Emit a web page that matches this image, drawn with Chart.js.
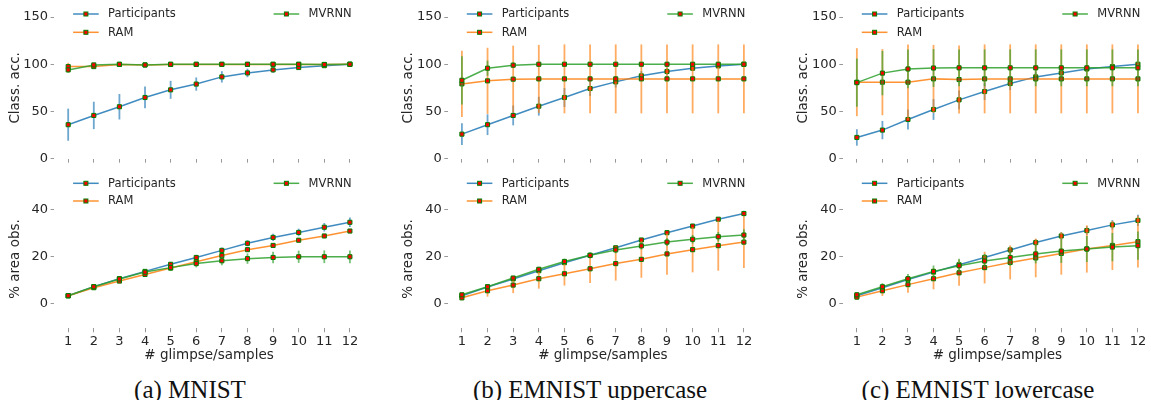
<!DOCTYPE html>
<html>
<head>
<meta charset="utf-8">
<script src="https://cdn.jsdelivr.net/npm/chart.js@4.4.0/dist/chart.umd.min.js"></script>
<style>
  html, body { margin: 0; padding: 0; background: #fff; }
  body { width: 1151px; height: 400px; position: relative; overflow: hidden; }
  canvas { position: absolute; }
  .cap { position: absolute; top: 377px; line-height: 25px; font-family: "Liberation Serif", serif; font-size: 25px; color: #111; white-space: nowrap; transform: translateX(-50%); }
</style>
</head>
<body>
<canvas id="accA"></canvas>
<canvas id="accB"></canvas>
<canvas id="accC"></canvas>
<canvas id="areaA"></canvas>
<canvas id="areaB"></canvas>
<canvas id="areaC"></canvas>
<div class="cap" style="left:190px">(a) MNIST</div>
<div class="cap" style="left:590px">(b) EMNIST uppercase</div>
<div class="cap" style="left:978px">(c) EMNIST lowercase</div>
<script>
// ---------- data ----------
const glimpses = [1, 2, 3, 4, 5, 6, 7, 8, 9, 10, 11, 12];
const seriesNames = ["Participants", "RAM", "MVRNN"];
const accTicks = [0, 50, 100, 150];
const areaTicks = [0, 20, 40];

// (a) MNIST - classification accuracy
const mnistAccPart = [36, 45.8, 55, 64.8, 72.9, 79, 86.6, 90.8, 94, 96.5, 98.5, 100];
const mnistAccPartErr = [17, 14.5, 13.5, 11.5, 9.5, 7, 6, 4.5, 3, 2, 1.5, 0.5];
const mnistAccRam = [97.5, 97.5, 99.8, 99.3, 99.8, 99.8, 99.8, 99.8, 99.8, 99.8, 99.8, 99.9];
const mnistAccRamErr = [4, 2, 0.5, 0.5, 0.4, 0.3, 0.3, 0.3, 0.3, 0.3, 0.3, 0.3];
const mnistAccMv = [94, 99.3, 100, 99.2, 100, 100, 100, 100, 100, 100, 99.6, 100];
const mnistAccMvErr = [3, 1, 0.5, 0.5, 0.4, 0.3, 0.3, 0.3, 0.3, 0.3, 0.3, 0.3];
// (a) MNIST - % area observed
const mnistAreaPart = [3.4, 7.2, 10.6, 13.7, 16.7, 19.6, 22.6, 25.6, 28.1, 30.2, 32.4, 34.5];
const mnistAreaPartErr = [0.5, 0.7, 0.8, 0.9, 1, 1.1, 1.2, 1.3, 1.5, 1.6, 1.8, 2];
const mnistAreaRam = [3.4, 6.8, 9.6, 12.4, 15.1, 17.8, 20.4, 22.9, 24.7, 26.9, 28.7, 30.8];
const mnistAreaRamErr = [0.3, 0.4, 0.5, 0.5, 0.6, 0.6, 0.7, 0.7, 0.8, 0.8, 0.9, 0.9];
const mnistAreaMv = [3.4, 7.2, 10.5, 13.4, 15.3, 17.0, 18.2, 19.1, 19.6, 19.9, 19.9, 19.9];
const mnistAreaMvErr = [0.5, 0.8, 1, 1.2, 1.4, 1.6, 1.9, 2.2, 2.4, 2.6, 2.7, 2.7];

// (b) EMNIST uppercase
const upperAccPart = [26, 36, 45.8, 55.6, 64.8, 74.3, 81.3, 87.7, 92.3, 95.8, 98.2, 100];
const upperAccPartErr = [11.5, 11, 10.5, 10, 10, 8, 6, 5, 4, 3, 2, 1];
const upperAccRam = [79.2, 82.4, 84.2, 84.5, 84.5, 84.5, 84.5, 84.5, 84.5, 84.5, 84.5, 84.5];
const upperAccRamErr = [35, 35, 35.5, 36, 36.5, 36.5, 36.5, 36.5, 36.5, 36.5, 36.5, 36.5];
const upperAccMv = [83, 95.8, 99, 100, 100, 100, 100, 100, 100, 100, 100, 100];
const upperAccMvErr = [25.5, 8, 3, 1.5, 1, 1, 0.8, 0.8, 0.8, 0.8, 0.8, 0.8];
const upperAreaPart = [3.4, 7.1, 10.5, 14.0, 17.4, 20.5, 23.7, 27.0, 30.1, 32.9, 35.8, 38.2];
const upperAreaPartErr = [0.3, 0.4, 0.5, 0.6, 0.6, 0.7, 0.7, 0.8, 0.8, 0.9, 0.9, 1.2];
const upperAreaRam = [2.5, 5.5, 7.9, 10.6, 12.7, 14.8, 17.0, 18.8, 21.1, 22.9, 24.6, 26.1];
const upperAreaRamErr = [1, 2.5, 3.4, 4.2, 5, 6, 7.2, 7.8, 8.8, 9.6, 10.6, 11];
const upperAreaMv = [3.8, 7.2, 10.9, 14.6, 17.9, 20.5, 22.8, 24.5, 26.1, 27.3, 28.4, 29.1];
const upperAreaMvErr = [0.4, 0.6, 0.8, 1, 1.2, 1.3, 1.4, 1.5, 1.6, 1.8, 2, 2.5];

// (c) EMNIST lowercase
const lowerAccPart = [22.5, 30.3, 41.5, 52.1, 62.3, 71.1, 79.6, 86.6, 90.8, 95, 97.5, 100];
const lowerAccPartErr = [8.7, 9.7, 10.5, 11, 10, 9, 7, 5, 4, 3, 2, 1.5];
const lowerAccRam = [81, 81, 81, 84.5, 83.8, 84.5, 84.5, 84.5, 84.5, 84.5, 84.5, 84.5];
const lowerAccRamErr = [36, 35, 40, 36, 36, 36.5, 36.5, 36.5, 36.5, 36.5, 36.5, 36.5];
const lowerAccMv = [80.5, 90.6, 95, 96, 96.2, 96.2, 96.2, 96.2, 96.2, 96.2, 96.2, 96.2];
const lowerAccMvErr = [25.5, 23.5, 20.5, 20, 19.5, 19.5, 19.5, 19.5, 19.5, 19.5, 19.5, 19.5];
const lowerAreaPart = [3.4, 6.8, 10.3, 13.4, 16.5, 19.6, 22.8, 25.9, 28.7, 31.0, 33.4, 35.3];
const lowerAreaPartErr = [0.4, 0.6, 0.7, 0.8, 1, 1.2, 1.4, 1.5, 1.6, 1.8, 2, 2.4];
const lowerAreaRam = [2.8, 5.5, 8.1, 10.6, 13.1, 15.3, 17.5, 19.4, 21.3, 23.2, 24.7, 26.3];
const lowerAreaRamErr = [1, 2.2, 3.4, 4.5, 5.5, 6.7, 7.2, 8.2, 9, 10, 10.4, 11];
const lowerAreaMv = [3.8, 7.2, 10.6, 13.7, 16.1, 18.1, 19.6, 21.1, 22.3, 23.2, 24.0, 24.6];
const lowerAreaMvErr = [1, 1.5, 2, 2.5, 3, 3, 3.5, 4, 5, 5.5, 6, 6];

// ---------- look ----------
const lineRgb = ["31,119,180", "255,127,14", "44,160,44"];
const markerFill = "#ff0000";
const markerEdge = "#008000";
const textColor = "#262626";

Chart.defaults.font.family = "'DejaVu Sans', sans-serif";
Chart.defaults.color = textColor;

// column = x placement, row = y placement (pixels on the page)
const columns = [
  { plotLeft: 54.1, plotRight: 366.9 },
  { plotLeft: 447.8, plotRight: 760.9 },
  { plotLeft: 842.8, plotRight: 1154.9 }
];
const rows = {
  acc: { top: 0, height: 170, areaTop: 17, areaBottom: 158.7, min: 0, max: 150, ticks: accTicks,
         title: "Class. acc.", showX: false, legendY: [14, 32.3] },
  area: { top: 172, height: 193, areaTop: 189.7, areaBottom: 328.3, min: -10.4, max: 48.3, ticks: areaTicks,
          title: "% area obs.", showX: true, legendY: [183.3, 201] }
};

// error bars, drawn just before each dataset so the line and markers sit on top
const errorBars = {
  id: "errorBars",
  beforeDatasetDraw(chart, args) {
    const ds = chart.data.datasets[args.index];
    if (!ds.errors) return;
    const ctx = chart.ctx;
    const xs = chart.scales.x, ys = chart.scales.y;
    ctx.save();
    ctx.strokeStyle = ds.errorColor;
    ctx.lineWidth = 1.8;
    ds.data.forEach((p, i) => {
      const px = xs.getPixelForValue(p.x);
      ctx.beginPath();
      ctx.moveTo(px, ys.getPixelForValue(p.y - ds.errors[i]));
      ctx.lineTo(px, ys.getPixelForValue(p.y + ds.errors[i]));
      ctx.stroke();
    });
    ctx.restore();
  }
};

// two-column legend like matplotlib (ncol=2)
const cornerLegend = {
  id: "cornerLegend",
  afterDraw(chart, args, opts) {
    const ctx = chart.ctx;
    const left = chart.chartArea.left;
    const slots = [[19, opts.rowsY[0]], [19, opts.rowsY[1]], [219.5, opts.rowsY[0]]];
    chart.data.datasets.forEach((ds, k) => {
      const x0 = left + slots[k][0];
      const y = slots[k][1];
      ctx.save();
      ctx.strokeStyle = ds.borderColor;
      ctx.lineWidth = 1.5;
      ctx.beginPath();
      ctx.moveTo(x0, y);
      ctx.lineTo(x0 + 25.6, y);
      ctx.stroke();
      ctx.fillStyle = markerFill;
      ctx.strokeStyle = markerEdge;
      ctx.lineWidth = 1;
      ctx.fillRect(x0 + 12.8 - 2, y - 2, 4, 4);
      ctx.strokeRect(x0 + 12.8 - 2, y - 2, 4, 4);
      ctx.fillStyle = textColor;
      ctx.font = "11.5px 'DejaVu Sans'";
      ctx.textBaseline = "middle";
      ctx.fillText(ds.label, x0 + 35, y + 0.5);
      ctx.restore();
    });
  }
};

function buildChart(id, col, row, series) {
  const canvas = document.getElementById(id);
  const left = Math.floor(col.plotLeft - 58);
  const width = Math.ceil(col.plotRight - left) + 2;
  canvas.width = width;
  canvas.height = row.height;
  canvas.style.left = left + "px";
  canvas.style.top = row.top + "px";
  const yWidth = col.plotLeft - left;
  const padRight = width - (col.plotRight - left);
  const xHeight = row.top + row.height - row.areaBottom;
  const titleCenter = yWidth - 39;

  return new Chart(canvas, {
    type: "line",
    data: {
      datasets: series.map((s, k) => ({
        label: seriesNames[k],
        data: glimpses.map((g, i) => ({ x: g, y: s[0][i] })),
        errors: s[1],
        borderColor: "rgba(" + lineRgb[k] + ",0.85)",
        errorColor: "rgba(" + lineRgb[k] + ",0.65)",
        borderWidth: 1.5,
        pointStyle: "rect",
        pointRadius: 2.9,
        pointBackgroundColor: markerFill,
        pointBorderColor: markerEdge,
        pointBorderWidth: 1,
        tension: 0,
        fill: false,
        clip: false,
        order: 3 - k
      }))
    },
    options: {
      responsive: false,
      animation: false,
      events: [],
      layout: { padding: { left: 0, right: padRight, top: row.areaTop - row.top, bottom: 0 } },
      plugins: {
        legend: { display: false },
        tooltip: { enabled: false },
        cornerLegend: { rowsY: row.legendY.map(v => v - row.top) }
      },
      scales: {
        x: {
          type: "linear",
          min: 0.45,
          max: 12.55,
          afterBuildTicks: s => { s.ticks = glimpses.map(v => ({ value: v })); },
          afterFit: s => { s.height = xHeight; },
          border: { display: false },
          grid: { drawOnChartArea: false, drawTicks: true, tickLength: 4, color: "#999" },
          ticks: { display: row.showX, padding: 2, font: { size: 13 }, color: textColor },
          title: {
            display: row.showX,
            text: "# glimpse/samples",
            font: { size: 13.5 },
            color: textColor,
            padding: { top: 0, bottom: 1.5 }
          }
        },
        y: {
          min: row.min,
          max: row.max,
          afterBuildTicks: s => { s.ticks = row.ticks.map(v => ({ value: v })); },
          afterFit: s => { s.width = yWidth; },
          border: { display: false },
          grid: { drawOnChartArea: false, drawTicks: true, tickLength: 3.5, color: "#999" },
          ticks: { padding: 2.5, font: { size: 13 }, color: textColor },
          title: {
            display: true,
            text: row.title,
            font: { size: 13.5 },
            color: textColor,
            padding: { top: titleCenter - 8.1, bottom: 0 }
          }
        }
      }
    },
    plugins: [errorBars, cornerLegend]
  });
}

buildChart("accA", columns[0], rows.acc, [
  [mnistAccPart, mnistAccPartErr], [mnistAccRam, mnistAccRamErr], [mnistAccMv, mnistAccMvErr]]);
buildChart("accB", columns[1], rows.acc, [
  [upperAccPart, upperAccPartErr], [upperAccRam, upperAccRamErr], [upperAccMv, upperAccMvErr]]);
buildChart("accC", columns[2], rows.acc, [
  [lowerAccPart, lowerAccPartErr], [lowerAccRam, lowerAccRamErr], [lowerAccMv, lowerAccMvErr]]);
buildChart("areaA", columns[0], rows.area, [
  [mnistAreaPart, mnistAreaPartErr], [mnistAreaRam, mnistAreaRamErr], [mnistAreaMv, mnistAreaMvErr]]);
buildChart("areaB", columns[1], rows.area, [
  [upperAreaPart, upperAreaPartErr], [upperAreaRam, upperAreaRamErr], [upperAreaMv, upperAreaMvErr]]);
buildChart("areaC", columns[2], rows.area, [
  [lowerAreaPart, lowerAreaPartErr], [lowerAreaRam, lowerAreaRamErr], [lowerAreaMv, lowerAreaMvErr]]);
</script>
</body>
</html>
